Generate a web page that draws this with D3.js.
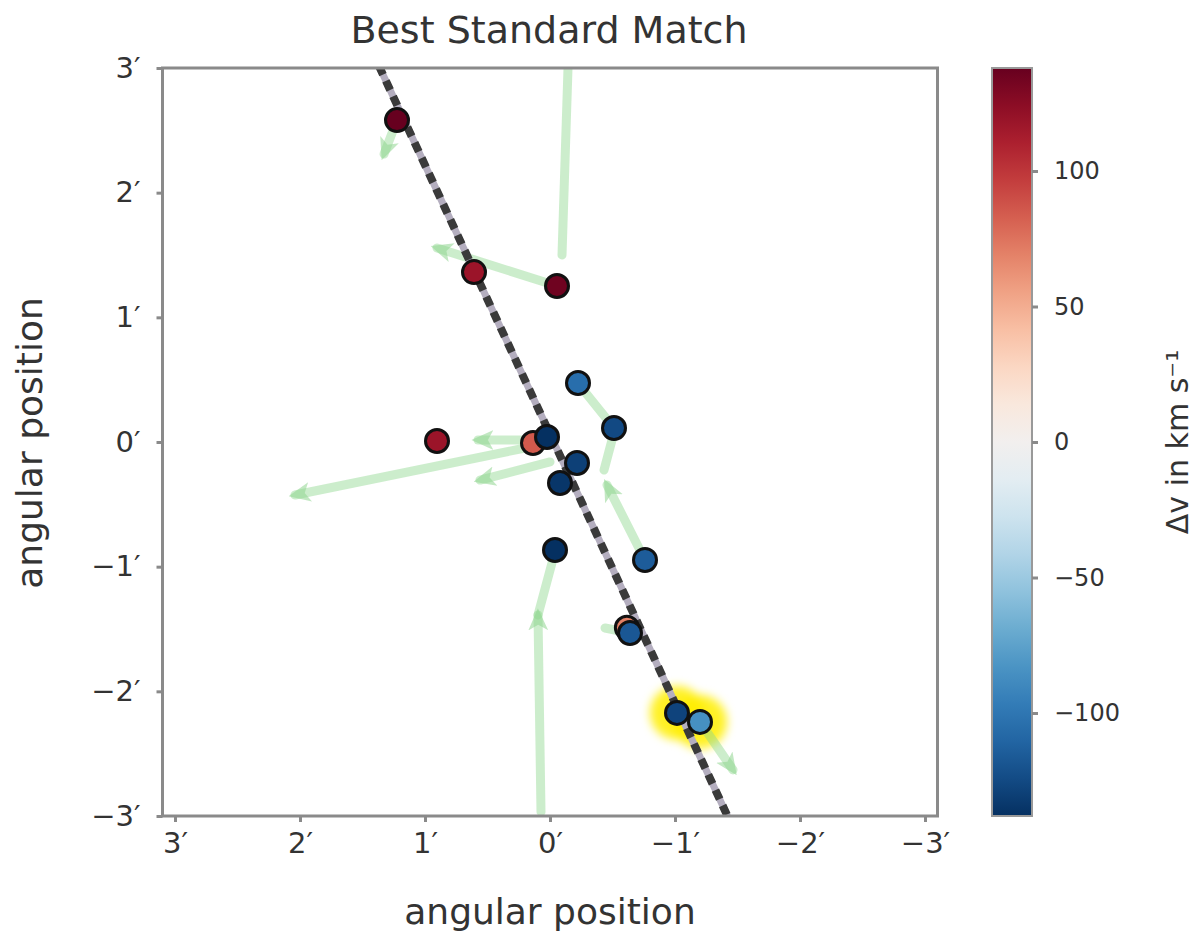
<!DOCTYPE html>
<html>
<head>
<meta charset="utf-8">
<script src="https://cdn.jsdelivr.net/npm/d3@7"></script>
<style>
  html, body { margin: 0; padding: 0; background: #fff; }
  text { font-family: "DejaVu Sans", sans-serif; fill: #333; }
</style>
</head>
<body>
<script>
// ---- data (angular offsets in arcmin, velocities in km/s) ----
const titleText = "Best Standard Match";
const xLabel = "angular position";
const yLabel = "angular position";
const cbLabel = "Δv in km s⁻¹";

const xTicks = [3, 2, 1, 0, -1, -2, -3];
const yTicks = [3, 2, 1, 0, -1, -2, -3];
const cbTicks = [100, 50, 0, -50, -100];

const pointX = [1.224, 0.608, -0.056, -0.224, -0.512, 0.904, 0.136, 0.024, -0.216, -0.080, -0.040, -0.760, -0.615, -0.640, -1.016, -1.200];
const pointY = [2.582, 1.363, 1.251, 0.473, 0.112, 0.008, -0.008, 0.040, -0.168, -0.329, -0.866, -0.946, -1.490, -1.532, -2.173, -2.245];
const pointV = [138, 118, 135, -105, -125, 118, 85, -138, -130, -135, -145, -115, 70, -118, -128, -85];

// highlighted (best match) points
const haloX = [-1.016, -1.200];
const haloY = [-2.173, -2.245];

// green arrows: start x, start y, end x, end y, head (1 = yes)
const arrowX0 = [-0.144, 1.224, -0.056, 0.160, 0.160, 0.000, 0.072, 0.096, -0.512, -0.496, -0.760, -1.200, -0.640];
const arrowY0 = [2.999, 2.582, 1.251, -0.040, 0.016, -0.160, -2.967, -1.387, 0.112, 0.016, -0.946, -2.245, -1.532];
const arrowX1 = [-0.096, 1.328, 0.904, 2.040, 0.576, 0.560, 0.096, -0.016, -0.280, -0.432, -0.456, -1.464, -0.440];
const arrowY1 = [1.500, 2.310, 1.556, -0.425, 0.016, -0.305, -1.387, -0.970, 0.401, -0.225, -0.345, -2.630, -1.492];
const arrowHead = [0, 1, 1, 1, 1, 1, 1, 0, 0, 0, 1, 1, 0];

// dashed reference line endpoints
const lineX = [1.37, -1.42];
const lineY = [3.02, -3.00];

// ---- layout ----
const W = 1200, H = 948;
const plot = { left: 162.5, right: 937.5, top: 68, bottom: 816 };
const cb = { left: 992, right: 1032, top: 68, bottom: 816 };
const vMax = 138;

const svg = d3.select("body").append("svg").attr("width", W).attr("height", H);

const x = d3.scaleLinear().domain([3.1, -3.1]).range([plot.left, plot.right]);
const y = d3.scaleLinear().domain([-3.0, 3.0]).range([plot.bottom, plot.top]);
const color = d3.scaleSequential(t => d3.interpolateRdBu(1 - t)).domain([-vMax, vMax]).clamp(true);

const defs = svg.append("defs");
defs.append("clipPath").attr("id", "clip").append("rect")
  .attr("x", plot.left).attr("y", plot.top)
  .attr("width", plot.right - plot.left).attr("height", plot.bottom - plot.top);
defs.append("marker").attr("id", "head")
  .attr("viewBox", "0 -10 20 20").attr("refX", 14).attr("refY", 0)
  .attr("markerUnits", "userSpaceOnUse")
  .attr("markerWidth", 22).attr("markerHeight", 22).attr("orient", "auto")
  .append("path").attr("d", "M0,-9L20,0L0,9L5,0Z").attr("fill", "#8fd68f").attr("fill-opacity", 0.55);
const blur = defs.append("filter").attr("id", "soft").attr("x", "-50%").attr("y", "-50%").attr("width", "200%").attr("height", "200%");
blur.append("feGaussianBlur").attr("stdDeviation", 5);

const g = svg.append("g").attr("clip-path", "url(#clip)");

// halo
g.append("g").attr("filter", "url(#soft)").selectAll("circle").data(haloX).join("circle")
  .attr("cx", d => x(d)).attr("cy", (d, i) => y(haloY[i])).attr("r", 27)
  .attr("fill", "#ffee00").attr("opacity", 0.85);

// arrows
g.append("g").selectAll("line").data(arrowX0).join("line")
  .attr("x1", d => x(d)).attr("y1", (d, i) => y(arrowY0[i]))
  .attr("x2", (d, i) => x(arrowX1[i])).attr("y2", (d, i) => y(arrowY1[i]))
  .attr("stroke", "#8fd68f").attr("stroke-opacity", 0.45).attr("stroke-width", 9)
  .attr("stroke-linecap", "round")
  .attr("marker-end", (d, i) => arrowHead[i] ? "url(#head)" : null);

// dashed line
g.append("line")
  .attr("x1", x(lineX[0])).attr("y1", y(lineY[0])).attr("x2", x(lineX[1])).attr("y2", y(lineY[1]))
  .attr("stroke", "#b4aebf").attr("stroke-width", 7);
g.append("line")
  .attr("x1", x(lineX[0])).attr("y1", y(lineY[0])).attr("x2", x(lineX[1])).attr("y2", y(lineY[1]))
  .attr("stroke", "#3a3a3a").attr("stroke-width", 8).attr("stroke-dasharray", "10,7");

// points
g.append("g").selectAll("circle").data(pointX).join("circle")
  .attr("cx", d => x(d)).attr("cy", (d, i) => y(pointY[i])).attr("r", 11.5)
  .attr("fill", (d, i) => color(pointV[i]))
  .attr("stroke", "#111").attr("stroke-width", 3);

// frame
svg.append("rect").attr("x", plot.left).attr("y", plot.top)
  .attr("width", plot.right - plot.left).attr("height", plot.bottom - plot.top)
  .attr("fill", "none").attr("stroke", "#8a8a8a").attr("stroke-width", 3);

const fmt = d => (d < 0 ? "−" + Math.abs(d) : String(d)) + "′";

// x axis
const xAxis = svg.append("g").attr("transform", `translate(0,${plot.bottom})`)
  .call(d3.axisBottom(x).tickValues(xTicks).tickFormat(fmt).tickSize(6).tickPadding(10));
// y axis
const yAxis = svg.append("g").attr("transform", `translate(${plot.left},0)`)
  .call(d3.axisLeft(y).tickValues(yTicks).tickFormat(fmt).tickSize(6).tickPadding(16));
[xAxis, yAxis].forEach(a => {
  a.select(".domain").remove();
  a.selectAll(".tick line").attr("stroke", "#8a8a8a").attr("stroke-width", 3);
  a.selectAll(".tick text").style("font-size", "29px").attr("fill", "#333")
    .style("font-family", "'DejaVu Sans', sans-serif");
});

// labels
svg.append("text").attr("x", 550).attr("y", 924)
  .attr("text-anchor", "middle").style("font-size", "36px").text(xLabel);
svg.append("text").attr("transform", `translate(42,443) rotate(-90)`)
  .attr("text-anchor", "middle").style("font-size", "36px").text(yLabel);
svg.append("text").attr("x", 549).attr("y", 43)
  .attr("text-anchor", "middle").style("font-size", "38px").text(titleText);

// colorbar
const grad = defs.append("linearGradient").attr("id", "cbgrad")
  .attr("x1", 0).attr("y1", 1).attr("x2", 0).attr("y2", 0);
d3.range(0, 1.0001, 0.05).forEach(t => {
  grad.append("stop").attr("offset", t).attr("stop-color", color(-vMax + 2 * vMax * t));
});
svg.append("rect").attr("x", cb.left).attr("y", cb.top)
  .attr("width", cb.right - cb.left).attr("height", cb.bottom - cb.top)
  .attr("fill", "url(#cbgrad)").attr("stroke", "#999").attr("stroke-width", 2);
const cbScale = d3.scaleLinear().domain([-vMax, vMax]).range([cb.bottom, cb.top]);
const cbAxis = svg.append("g").attr("transform", `translate(${cb.right},0)`)
  .call(d3.axisRight(cbScale).tickValues(cbTicks)
    .tickFormat(d => d < 0 ? "−" + Math.abs(d) : String(d)).tickSize(6).tickPadding(16));
cbAxis.select(".domain").remove();
cbAxis.selectAll(".tick line").attr("stroke", "#8a8a8a").attr("stroke-width", 3);
cbAxis.selectAll(".tick text").style("font-size", "24px").attr("fill", "#333")
  .style("font-family", "'DejaVu Sans', sans-serif");
svg.append("text").attr("transform", `translate(1188,${(cb.top + cb.bottom) / 2}) rotate(-90)`)
  .attr("text-anchor", "middle").style("font-size", "30px").text(cbLabel);
</script>
</body>
</html>
